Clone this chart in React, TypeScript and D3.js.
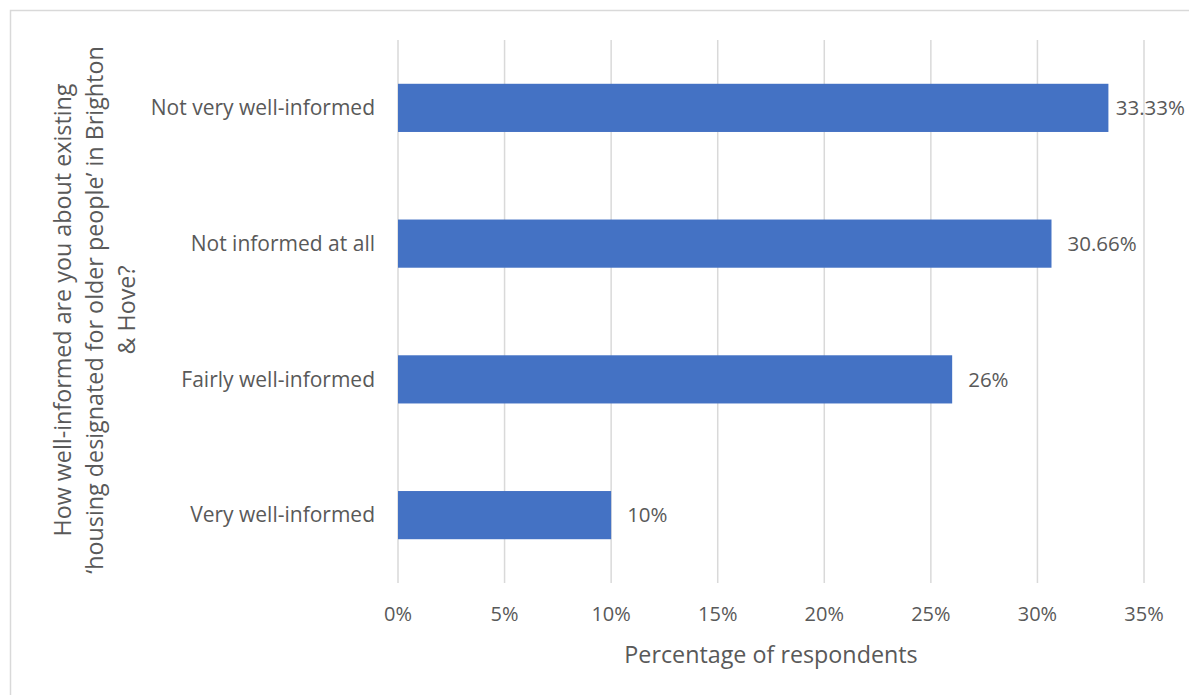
import React from "react";
import * as d3 from "d3";

const categories = ["Not very well-informed", "Not informed at all", "Fairly well-informed", "Very well-informed"];
const values = [33.33, 30.66, 26, 10];
const valueLabels = ["33.33%", "30.66%", "26%", "10%"];
const xTicks = [0, 5, 10, 15, 20, 25, 30, 35];
const yTitleLines = [
  "How well-informed are you about existing",
  "\u2018housing designated for older people\u2019 in Brighton",
  "& Hove?",
];
const xTitle = "Percentage of respondents";

const W = 1189;
const H = 695;
const FONT = "'Open Sans', sans-serif";
const TEXT = "#595959";
const GRID = "#d9d9d9";
const BAR = "#4472C4";
const LABEL_FS = 20.5;
const LABEL_RIGHT_LIMIT = 1185;

export default function App() {
  const x = d3.scaleLinear().domain([0, 35]).range([398, 1144]);
  const y = d3.scaleBand().domain(categories).range([40, 583]).paddingInner(0.645).paddingOuter(0.3225);

  return (
    <svg width={W} height={H} style={{ position: "absolute", left: 0, top: 0, background: "#fff" }}>
      <rect x={10.5} y={10.5} width={W + 10} height={H + 10} fill="#fff" stroke={GRID} strokeWidth={1.5} />
      {xTicks.map((t) => (
        <g key={t}>
          <line x1={x(t)} x2={x(t)} y1={40} y2={583} stroke={GRID} strokeWidth={1.5} />
          <text x={x(t)} y={614} dy="0.35em" textAnchor="middle" fontFamily={FONT} fontSize={20} fill={TEXT}>
            {t}%
          </text>
        </g>
      ))}
      {categories.map((c, i) => {
        const yy = y(c)!;
        const bw = y.bandwidth();
        const estW = valueLabels[i].length * 0.58 * LABEL_FS;
        const lx0 = x(values[i]) + 16;
        const overflow = lx0 + estW > LABEL_RIGHT_LIMIT;
        return (
          <g key={c}>
            <rect x={x(0)} y={yy} width={x(values[i]) - x(0)} height={bw} fill={BAR} />
            <text
              x={overflow ? LABEL_RIGHT_LIMIT : lx0}
              y={yy + bw / 2}
              dy="0.35em"
              textAnchor={overflow ? "end" : "start"}
              fontFamily={FONT}
              fontSize={LABEL_FS}
              fill={TEXT}
            >
              {valueLabels[i]}
            </text>
            <text x={375} y={yy + bw / 2} dy="0.35em" textAnchor="end" fontFamily={FONT} fontSize={21} fill={TEXT}>
              {c}
            </text>
          </g>
        );
      })}
      <text x={771} y={655} dy="0.35em" textAnchor="middle" fontFamily={FONT} fontSize={23.3} fill={TEXT}>
        {xTitle}
      </text>
      <g transform="translate(0,310) rotate(-90)">
        {yTitleLines.map((l, i) => (
          <text key={i} x={0} y={63 + i * 32} dy="0.35em" textAnchor="middle" fontFamily={FONT} fontSize={23.3} fill={TEXT}>
            {l}
          </text>
        ))}
      </g>
    </svg>
  );
}
